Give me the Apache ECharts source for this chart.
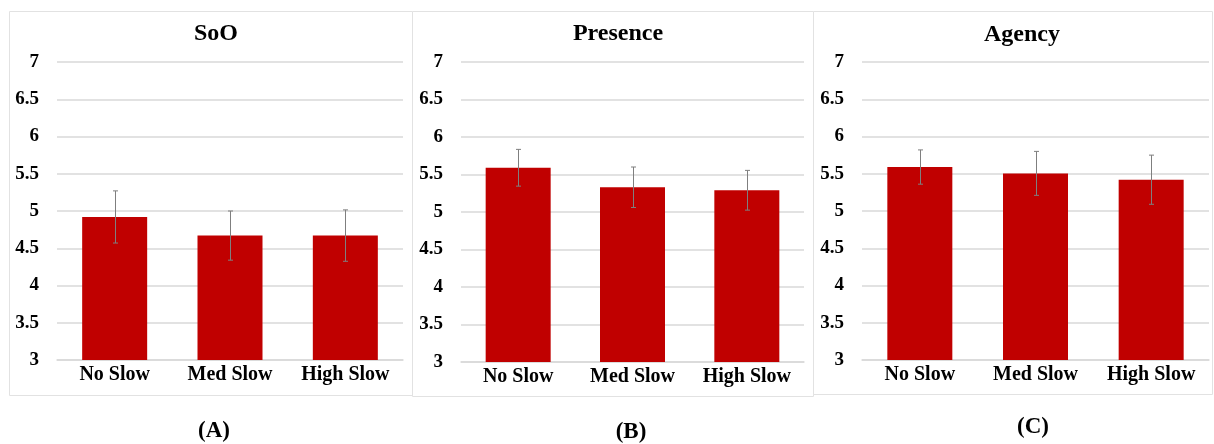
<!DOCTYPE html>
<html>
<head>
<meta charset="utf-8">
<script src="https://cdn.jsdelivr.net/npm/echarts@6/dist/echarts.min.js"></script>
<style>
  html, body { margin: 0; padding: 0; background: #ffffff; }
  #chart { width: 1214px; height: 444px; }
</style>
</head>
<body>
<div id="chart"></div>
<script>
// Group labels shared by every panel
const categories = ['No Slow', 'Med Slow', 'High Slow'];

// Panel titles and captions
const panelTitles = ['SoO', 'Presence', 'Agency'];
const panelCaptions = ['(A)', '(B)', '(C)'];

// Mean ratings and error half-widths per panel
const sooMeans = [4.92, 4.67, 4.67];
const sooErr = [0.35, 0.33, 0.345];
const presenceMeans = [5.59, 5.33, 5.29];
const presenceErr = [0.245, 0.27, 0.265];
const agencyMeans = [5.59, 5.505, 5.42];
const agencyErr = [0.23, 0.295, 0.33];

// Rating axis
const yMin = 3, yMax = 7, yStep = 0.5;

const FONT = "'Liberation Serif', 'Times New Roman', serif";
const BAR = '#C00000';
const GRIDLINE = '#d9d9d9';

const panels = [
  { means: sooMeans, err: sooErr,
    grid: { left: 57, top: 62, width: 346, height: 298 },
    box: [9.5, 11.5, 403, 384], title: [211, 17], caption: [209, 415] },
  { means: presenceMeans, err: presenceErr,
    grid: { left: 461, top: 62, width: 343, height: 300 },
    box: [412.5, 11.5, 401, 385], title: [613, 17], caption: [626, 416] },
  { means: agencyMeans, err: agencyErr,
    grid: { left: 862, top: 62, width: 347, height: 298 },
    box: [813.5, 11.5, 399, 383], title: [1017, 18], caption: [1028, 411] }
];

const grids = [], xAxes = [], yAxes = [], series = [], titles = [], graphics = [];

panels.forEach((p, i) => {
  grids.push(p.grid);

  graphics.push({
    type: 'rect', z: -1,
    shape: { x: p.box[0], y: p.box[1], width: p.box[2], height: p.box[3] },
    style: { fill: '#ffffff', stroke: '#e2e2e2', lineWidth: 1 }
  });

  titles.push({
    text: panelTitles[i],
    left: p.title[0], top: p.title[1], textAlign: 'center',
    textStyle: { fontFamily: FONT, fontWeight: 'bold', fontSize: 24, color: '#000' }
  });
  titles.push({
    text: panelCaptions[i],
    left: p.caption[0], top: p.caption[1], textAlign: 'center',
    textStyle: { fontFamily: FONT, fontWeight: 'bold', fontSize: 23, color: '#000' }
  });

  xAxes.push({
    type: 'category', gridIndex: i, data: categories,
    axisLine: { show: true, lineStyle: { color: GRIDLINE, width: 1.5 } },
    axisTick: { show: false },
    axisLabel: { fontFamily: FONT, fontWeight: 'bold', fontSize: 20, color: '#000', margin: 5, interval: 0 }
  });

  yAxes.push({
    type: 'value', gridIndex: i, min: yMin, max: yMax, interval: yStep,
    axisLine: { show: false }, axisTick: { show: false },
    splitLine: { show: true, lineStyle: { color: GRIDLINE, width: 1.5 } },
    axisLabel: { fontFamily: FONT, fontWeight: 'bold', fontSize: 19, color: '#000', margin: 18 }
  });

  series.push({
    type: 'bar', xAxisIndex: i, yAxisIndex: i,
    data: p.means, barWidth: 65,
    itemStyle: { color: BAR },
    silent: true
  });

  // Error bars: vertical whisker with short caps at each end
  series.push({
    type: 'custom', xAxisIndex: i, yAxisIndex: i, z: 10, silent: true,
    data: p.means.map((m, k) => [k, m - p.err[k], m + p.err[k]]),
    renderItem: function (params, api) {
      const lo = api.coord([api.value(0), api.value(1)]);
      const hi = api.coord([api.value(0), api.value(2)]);
      const x = Math.round(lo[0]) + 0.5;
      const cap = 2.5;
      const style = { stroke: '#7f7f7f', lineWidth: 1 };
      return {
        type: 'group',
        children: [
          { type: 'line', shape: { x1: x, y1: hi[1], x2: x, y2: lo[1] }, style },
          { type: 'line', shape: { x1: x - cap, y1: hi[1], x2: x + cap, y2: hi[1] }, style },
          { type: 'line', shape: { x1: x - cap, y1: lo[1], x2: x + cap, y2: lo[1] }, style }
        ]
      };
    }
  });
});

const chart = echarts.init(document.getElementById('chart'), null, { renderer: 'canvas' });
chart.setOption({
  backgroundColor: '#ffffff',
  animation: false,
  title: titles,
  grid: grids,
  xAxis: xAxes,
  yAxis: yAxes,
  series: series,
  graphic: graphics
});
</script>
</body>
</html>
